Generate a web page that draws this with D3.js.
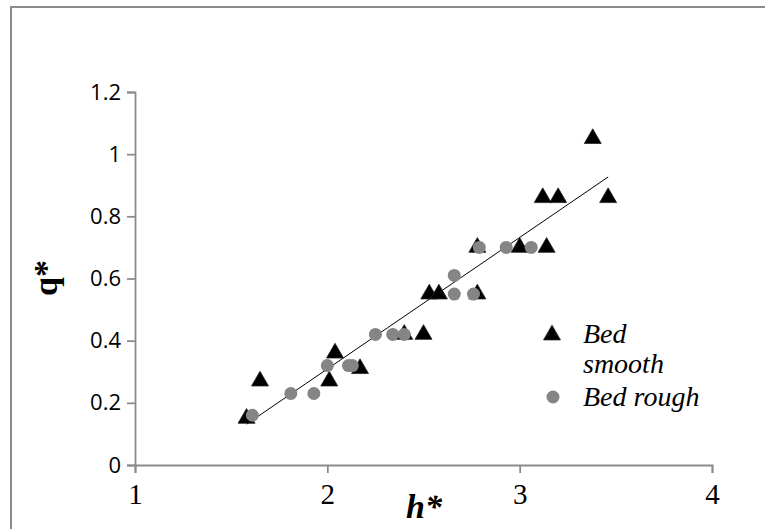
<!DOCTYPE html>
<html>
<head>
<meta charset="utf-8">
<script src="https://cdn.jsdelivr.net/npm/d3@7"></script>
<style>
  html, body { margin: 0; padding: 0; background: #fff; }
  svg { display: block; }
</style>
</head>
<body>
<div id="chart"></div>
<script>
// ---- Data ------------------------------------------------------------------
const smoothH = [1.58, 1.65, 2.01, 2.04, 2.17, 2.40, 2.50, 2.53, 2.58, 2.78, 2.78, 3.00, 3.14, 3.12, 3.20, 3.46, 3.38];
const smoothQ = [0.15, 0.27, 0.27, 0.36, 0.31, 0.42, 0.42, 0.55, 0.55, 0.55, 0.70, 0.70, 0.70, 0.86, 0.86, 0.86, 1.05];

const roughH = [1.61, 1.81, 1.93, 2.00, 2.11, 2.13, 2.25, 2.34, 2.40, 2.66, 2.66, 2.76, 2.79, 2.93, 3.06];
const roughQ = [0.16, 0.23, 0.23, 0.32, 0.32, 0.32, 0.42, 0.42, 0.42, 0.61, 0.55, 0.55, 0.70, 0.70, 0.70];

// linear trend line (slope, intercept) and its extent in h*
const trendCoef = [0.423, -0.537];
const trendH    = [1.58, 3.46];

const xTicks = [1, 2, 3, 4];
const yTicks = [0, 0.2, 0.4, 0.6, 0.8, 1, 1.2];
const legendLabels = [['Bed', 'smooth'], ['Bed rough']];

// ---- Layout -----------------------------------------------------------------
const W = 765, H = 529;
const M = { top: 92, right: 53, bottom: 64, left: 135 };
const AXIS = '#8c8c8c';
const SERIF = 'Liberation Serif';

const svg = d3.select('#chart').append('svg')
  .attr('width', W).attr('height', H);

// chart frame (runs past right & bottom edge as in the source)
svg.append('rect')
  .attr('x', 11).attr('y', 7)
  .attr('width', W + 20).attr('height', H + 20)
  .attr('fill', '#fff')
  .attr('stroke', AXIS).attr('stroke-width', 2);

const x = d3.scaleLinear().domain([1, 4]).range([M.left, W - M.right]);
const y = d3.scaleLinear().domain([0, 1.2]).range([H - M.bottom, M.top]);

// ---- Axes -------------------------------------------------------------------
svg.append('g')
  .attr('transform', `translate(${M.left},0)`)
  .call(d3.axisLeft(y).tickValues(yTicks).tickFormat(d3.format('~g')).tickSize(8).tickPadding(6))
  .attr('font-family', 'Open Sans')
  .attr('font-size', 22)
  .call(g => g.select('.domain').attr('stroke', AXIS).attr('stroke-width', 1.8))
  .call(g => g.selectAll('.tick line').attr('stroke', AXIS).attr('stroke-width', 1.8))
  .call(g => g.selectAll('text').attr('fill', '#000'));

svg.append('g')
  .attr('transform', `translate(0,${H - M.bottom})`)
  .call(d3.axisBottom(x).tickValues(xTicks).tickFormat(d3.format('d')).tickSize(8).tickPadding(10))
  .attr('font-family', SERIF)
  .attr('font-size', 29)
  .call(g => g.select('.domain').attr('stroke', AXIS).attr('stroke-width', 1.8))
  .call(g => g.selectAll('.tick line').attr('stroke', AXIS).attr('stroke-width', 1.8))
  .call(g => g.selectAll('text').attr('fill', '#000'));

// axis titles
svg.append('text')
  .attr('transform', `translate(57,278) rotate(-90)`)
  .attr('text-anchor', 'middle')
  .attr('font-family', SERIF)
  .attr('font-weight', 700)
  .attr('font-size', 34)
  .text('q*');

svg.append('text')
  .attr('x', 424).attr('y', 518)
  .attr('text-anchor', 'middle')
  .attr('font-family', SERIF)
  .attr('font-weight', 700)
  .attr('font-style', 'italic')
  .attr('font-size', 34)
  .text('h*');

// ---- Trend line -------------------------------------------------------------
svg.append('line')
  .attr('x1', x(trendH[0])).attr('y1', y(trendCoef[0] * trendH[0] + trendCoef[1]))
  .attr('x2', x(trendH[1])).attr('y2', y(trendCoef[0] * trendH[1] + trendCoef[1]))
  .attr('stroke', '#000').attr('stroke-width', 1);

// ---- Points -----------------------------------------------------------------
const tri = d3.symbol().type(d3.symbolTriangle).size(125);

const smooth = smoothH.map((h, i) => ({ h, q: smoothQ[i] }));
const rough  = roughH.map((h, i) => ({ h, q: roughQ[i] }));

svg.append('g').selectAll('path')
  .data(smooth).join('path')
  .attr('d', tri)
  .attr('transform', d => `translate(${x(d.h)},${y(d.q)})`)
  .attr('fill', '#000').attr('stroke', '#222').attr('stroke-width', 0.8);

svg.append('g').selectAll('circle')
  .data(rough).join('circle')
  .attr('cx', d => x(d.h)).attr('cy', d => y(d.q))
  .attr('r', 6.5)
  .attr('fill', '#858585');

// ---- Legend -----------------------------------------------------------------
const lg = svg.append('g');
lg.append('path').attr('d', tri).attr('transform', 'translate(552,335)')
  .attr('fill', '#000').attr('stroke', '#222').attr('stroke-width', 0.8);
lg.append('circle').attr('cx', 553).attr('cy', 397).attr('r', 6.5).attr('fill', '#858585');

const legText = [
  { t: legendLabels[0][0], y: 343 },
  { t: legendLabels[0][1], y: 373 },
  { t: legendLabels[1][0], y: 406 }
];
legText.forEach(d => {
  lg.append('text')
    .attr('x', 583).attr('y', d.y)
    .attr('font-family', SERIF)
    .attr('font-style', 'italic')
    .attr('font-size', 28)
    .text(d.t);
});
</script>
</body>
</html>
